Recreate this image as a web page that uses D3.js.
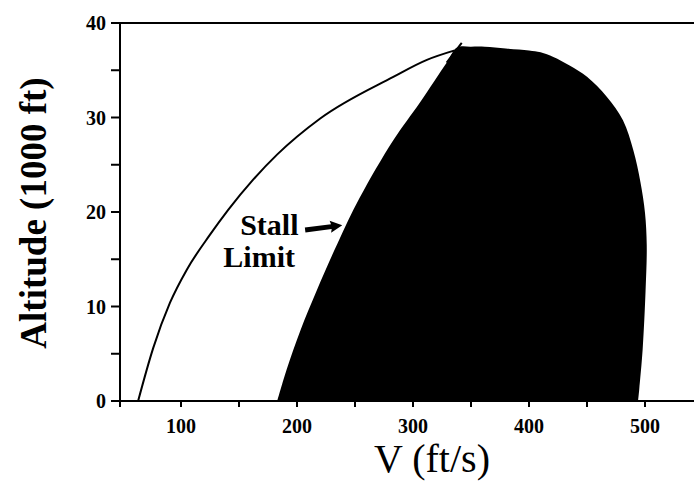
<!DOCTYPE html>
<html><head><meta charset="utf-8">
<script src="https://cdn.jsdelivr.net/npm/d3@7"></script>
<style>body{margin:0;background:#fff}</style>
</head><body>
<svg id="c" width="694" height="482"></svg>
<script>
// ---- data ----
const xTicksMajor = [100, 200, 300, 400, 500];
const xTicksMinor = [150, 250, 350, 450];
const yTicksMajor = [0, 10, 20, 30, 40];
const yTicksMinor = [5, 15, 25, 35];

// stall limit (left edge of envelope), V in ft/s, altitude in 1000 ft
const stallV   = [183, 191, 203, 217, 235, 254, 283, 306, 329, 338];
const stallAlt = [0, 3.3, 7.5, 11.7, 16.7, 21.5, 27.6, 31.6, 35.8, 37.4];
// short extension of the stall line above the envelope
const stallExtV   = [329, 342];
const stallExtAlt = [35.8, 37.9];
// top and right edge of envelope
const edgeV   = [350, 362, 380, 400, 410, 421, 435, 450, 467, 481, 490, 496, 500, 501.5, 500.5, 498, 495, 494];
const edgeAlt = [37.5, 37.5, 37.3, 37.1, 36.9, 36.4, 35.5, 34.3, 32.2, 29.7, 26.5, 23.2, 19.9, 16.5, 11.7, 5.5, 1.2, 0];
// thin curve
const curveV   = [63, 76, 90.5, 105, 125, 140.5, 162, 183, 220, 283, 312, 336];
const curveAlt = [0, 5.6, 10.4, 13.9, 17.6, 20.2, 23.4, 26.1, 29.9, 34.3, 36.1, 37.1];

// annotation
const labelLines = ["Stall", "Limit"];
const labelV = [151, 136.5];
const labelAlt = [17.6, 14.2];
const arrowFrom = [207, 18.1];
const arrowTo = [239, 18.6];

// ---- chart ----
const svg = d3.select("#c");
const x = d3.scaleLinear().domain([48, 550]).range([120.7, 703]);
const y = d3.scaleLinear().domain([0, 40]).range([401, 23]);
const serif = "'Liberation Serif','Times New Roman',serif";

// envelope fill
const env = stallV.map((v, i) => [v, stallAlt[i]]).concat(edgeV.map((v, i) => [v, edgeAlt[i]]));
const line = d3.line().x(d => x(d[0])).y(d => y(d[1])).curve(d3.curveCatmullRom.alpha(0.5));
svg.append("path").attr("d", line(env) + "Z").attr("fill", "#000");

// thin curve
const lineM = d3.line().x(d => x(d[0])).y(d => y(d[1])).curve(d3.curveMonotoneX);
svg.append("path").attr("d", lineM(curveV.map((v, i) => [v, curveAlt[i]])))
  .attr("fill", "none").attr("stroke", "#000").attr("stroke-width", 2);
// stall-line extension
const lineL = d3.line().x(d => x(d[0])).y(d => y(d[1]));
svg.append("path").attr("d", lineL(stallExtV.map((v, i) => [v, stallExtAlt[i]])))
  .attr("fill", "none").attr("stroke", "#000").attr("stroke-width", 2);

// axes
const g = svg.append("g").attr("stroke", "#000").attr("stroke-width", 2);
g.append("line").attr("x1", 120).attr("x2", 120).attr("y1", y(40)).attr("y2", y(0) + 6);
g.append("line").attr("x1", 119).attr("x2", 694).attr("y1", y(0)).attr("y2", y(0));
g.append("line").attr("x1", 120).attr("x2", 694).attr("y1", y(40)).attr("y2", y(40));
yTicksMajor.concat(yTicksMinor).forEach(t => {
  g.append("line").attr("x1", 111).attr("x2", 120).attr("y1", y(t)).attr("y2", y(t));
});
xTicksMajor.concat(xTicksMinor).forEach(t => {
  g.append("line").attr("x1", x(t)).attr("x2", x(t)).attr("y1", y(0)).attr("y2", y(0) + 6);
});

// tick labels
svg.append("g").selectAll("text").data(yTicksMajor).join("text")
  .attr("x", 106).attr("y", d => y(d)).attr("dy", "0.35em")
  .attr("text-anchor", "end").attr("font-family", serif).attr("font-weight", "bold")
  .attr("font-size", 20).text(d => d);
svg.append("g").selectAll("text").data(xTicksMajor).join("text")
  .attr("x", d => x(d)).attr("y", 433)
  .attr("text-anchor", "middle").attr("font-family", serif).attr("font-weight", "bold")
  .attr("font-size", 20).text(d => d);

// axis titles
svg.append("text").attr("transform", "translate(46,213) rotate(-90)")
  .attr("text-anchor", "middle").attr("font-family", serif).attr("font-weight", "bold")
  .attr("font-size", 37).text("Altitude (1000 ft)");
svg.append("text").attr("x", 432).attr("y", 472)
  .attr("text-anchor", "middle").attr("font-family", serif)
  .attr("font-size", 40).text("V (ft/s)");

// annotation
labelLines.forEach((t, i) => {
  svg.append("text").attr("x", x(labelV[i])).attr("y", y(labelAlt[i]))
    .attr("font-family", serif).attr("font-weight", "bold").attr("font-size", 30).text(t);
});
const ax0 = x(arrowFrom[0]), ay0 = y(arrowFrom[1]), ax1 = x(arrowTo[0]), ay1 = y(arrowTo[1]);
const ang = Math.atan2(ay1 - ay0, ax1 - ax0);
const len = Math.hypot(ax1 - ax0, ay1 - ay0);
const ag = svg.append("g").attr("transform", `translate(${ax0},${ay0}) rotate(${ang * 180 / Math.PI})`);
ag.append("path").attr("fill", "#000")
  .attr("d", `M0,-2.5 L${len - 11},-2.5 L${len - 12},-6 L${len},0 L${len - 12},6 L${len - 11},2.5 L0,2.5 Z`);
</script>
</body></html>
